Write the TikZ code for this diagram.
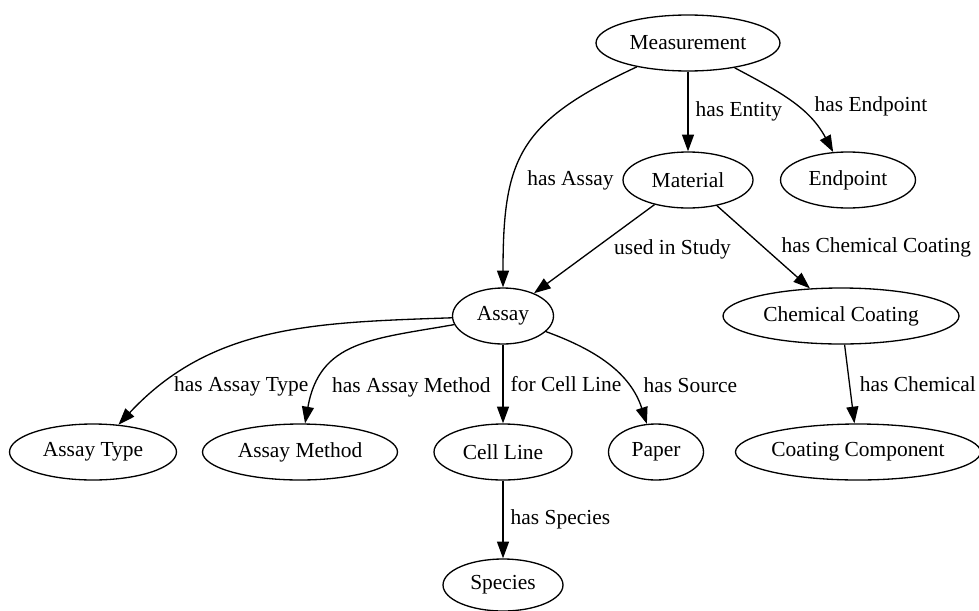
\documentclass[tikz,border=0pt]{standalone}
\usepackage{fontspec}
\setmainfont{Liberation Serif}
\usetikzlibrary{shapes.geometric,arrows.meta,positioning}

\begin{document}
\begin{tikzpicture}[
            x = 0.02cm, y = 0.02cm, % one unit = one pixel
            > = {Triangle[length=9.5pt,width=6.8pt]}, % arrow head style
            line width = 0.75pt, % line style
            font = \fontsize{12.2pt}{14pt}\selectfont,
            entity/.style = {shape=ellipse, draw=black, inner sep=0pt, minimum height=1.12cm},
            lbl/.style = {inner sep=2pt}
        ]
\useasboundingbox (0,0) rectangle (979,610);

\node[entity, minimum width=3.68cm] (measurement) at (688,567) {Measurement};
\node[entity, minimum width=2.6cm] (material) at (688,430) {Material};
\node[entity, minimum width=2.7cm] (endpoint) at (848,430) {Endpoint};
\node[entity, minimum width=2.02cm] (assay) at (503,294) {Assay};
\node[entity, minimum width=4.72cm] (coating) at (841,294) {Chemical Coating};
\node[entity, minimum width=3.34cm] (assaytype) at (93,158) {Assay Type};
\node[entity, minimum width=3.9cm] (assaymethod) at (300,158) {Assay Method};
\node[entity, minimum width=2.76cm] (cellline) at (503,158) {Cell Line};
\node[entity, minimum width=1.9cm] (paper) at (656,158) {Paper};
\node[entity, minimum width=4.84cm] (component) at (858,158) {Coating Component};
\node[entity, minimum width=2.4cm, minimum height=1.04cm] (species) at (503,25) {Species};

 \path [->] (measurement) edge[out=205, in=90, out distance=2.6cm, in distance=2.6cm] node[lbl, pos=0.65, right=6pt] {has Assay} (assay);
 \path [->] (measurement) edge node[lbl, right=2pt] {has Entity} (material);
 \path [->] (measurement) edge[out=-28, in=118] node[lbl, pos=0.55, right=8pt] {has Endpoint} (endpoint);
 \path [->] (material) edge node[lbl, right=9pt] {used in Study} (assay);
 \path [->] (material) edge node[lbl, right=8pt] {has Chemical Coating} (coating);

 \path [->] (assay) edge[out=182, in=47] node[lbl, pos=0.85, right=5pt] {has Assay Type} (assaytype);
 \path [->] (assay) edge[out=190, in=80, looseness=1.2] node[lbl, pos=0.83, right=7pt] {has Assay Method} (assaymethod);
 \path [->] (assay) edge node[lbl, right=2pt] {for Cell Line} (cellline);
 \path [->] (assay) edge[out=-20, in=108] node[lbl, pos=0.7, right=7pt] {has Source} (paper);
 \path [->] (coating) edge node[lbl, right=3.5pt] {has Chemical} (component);
 \path [->] (cellline) edge node[lbl, right=2pt] {has Species} (species);
\end{tikzpicture}
\end{document}
